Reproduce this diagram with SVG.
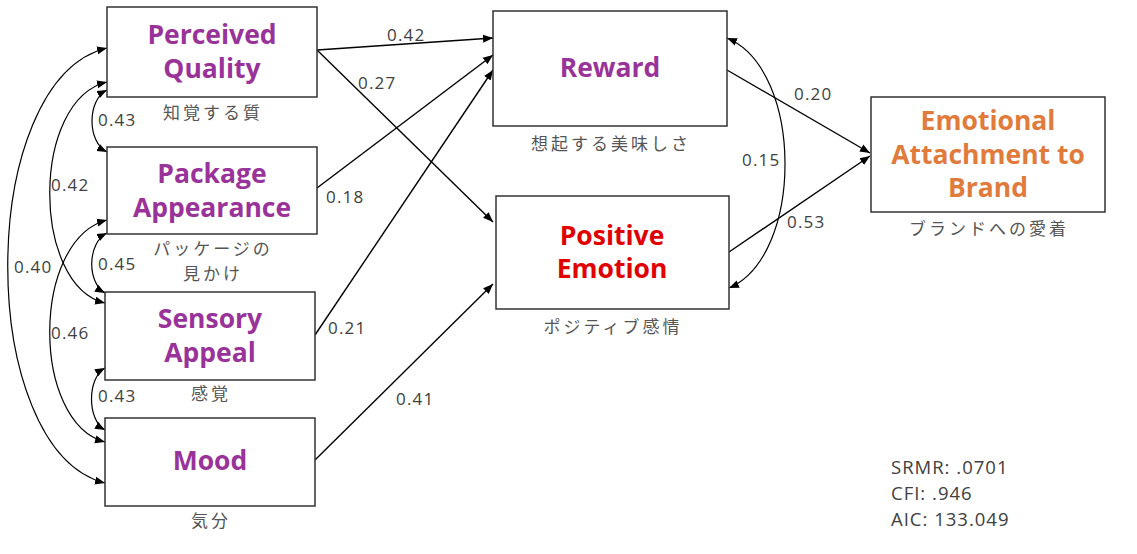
<svg xmlns="http://www.w3.org/2000/svg" width="1137" height="554" viewBox="0 0 1137 554">
<defs>
<marker id="ah" viewBox="0 0 10 10" refX="10" refY="5" markerWidth="10" markerHeight="10" markerUnits="userSpaceOnUse" orient="auto-start-reverse">
<path d="M0,1 L10,5 L0,9 z" fill="#000"/>
</marker>
<style>
.box{fill:#fff;stroke:#333;stroke-width:1.5}
.t{font-family:"Open Sans","Liberation Sans",sans-serif;font-weight:bold;font-size:26.5px;text-anchor:middle}
.p{fill:#993399}
.r{fill:#e00000}
.o{fill:#e07b3c}
.jp{font-family:"Noto Sans CJK JP",sans-serif;font-size:17px;letter-spacing:3px;fill:#555;text-anchor:middle}
.lb{font-family:"Open Sans","Liberation Sans",sans-serif;font-size:17px;letter-spacing:1.2px;fill:#404040}
.e{fill:none;stroke:#000;stroke-width:1.4;marker-end:url(#ah)}
.c{fill:none;stroke:#000;stroke-width:1.2;marker-start:url(#ah);marker-end:url(#ah)}
.st{font-family:"Open Sans","Liberation Sans",sans-serif;font-size:18.5px;letter-spacing:1px;fill:#404040}
</style>
</defs>
<rect width="1137" height="554" fill="#fff"/>
<g id="connectors">
<path class="e" d="M317,50 L493,38"/>
<path class="e" d="M317,50 L493,222"/>
<path class="e" d="M317,188 L493,55"/>
<path class="e" d="M315,335 L493,70"/>
<path class="e" d="M315,460 L493,284"/>
<path class="e" d="M727,70 L870,153"/>
<path class="e" d="M729,252 L870,156"/>
<path class="c" d="M727,38 C804,70 804,256 729,288"/>
<path class="c" d="M107,90 C87,100 87,142 107,152"/>
<path class="c" d="M107,82 C31,100 31,285 105,303"/>
<path class="c" d="M107,48 C-25,80 -25,450 105,483"/>
<path class="c" d="M107,233 C87,243 87,283 105,293"/>
<path class="c" d="M107,220 C31,240 31,422 105,442"/>
<path class="c" d="M105,368 C87,378 87,420 105,430"/>
<text class="lb" x="387" y="41">0.42</text>
<text class="lb" x="358" y="89">0.27</text>
<text class="lb" x="326" y="203">0.18</text>
<text class="lb" x="328" y="334">0.21</text>
<text class="lb" x="396" y="405">0.41</text>
<text class="lb" x="794" y="100">0.20</text>
<text class="lb" x="787" y="228">0.53</text>
<text class="lb" x="742" y="166">0.15</text>
<text class="lb" x="98" y="126">0.43</text>
<text class="lb" x="51" y="191">0.42</text>
<text class="lb" x="14" y="273">0.40</text>
<text class="lb" x="98" y="270">0.45</text>
<text class="lb" x="51" y="339">0.46</text>
<text class="lb" x="98" y="402">0.43</text>
</g>
<g id="perceived-quality">
<rect class="box" x="107" y="7" width="210" height="90"/>
<text class="t p" x="212" y="44">Perceived</text>
<text class="t p" x="212" y="78">Quality</text>
<text class="jp" x="213" y="119">知覚する質</text>
</g>
<g id="package-appearance">
<rect class="box" x="107" y="147" width="210" height="87"/>
<text class="t p" x="212" y="183">Package</text>
<text class="t p" x="212" y="217">Appearance</text>
<text class="jp" x="213" y="255">パッケージの</text>
<text class="jp" x="213" y="280">見かけ</text>
</g>
<g id="sensory-appeal">
<rect class="box" x="105" y="292" width="210" height="88"/>
<text class="t p" x="210" y="328">Sensory</text>
<text class="t p" x="210" y="362">Appeal</text>
<text class="jp" x="211" y="400">感覚</text>
</g>
<g id="mood">
<rect class="box" x="105" y="418" width="210" height="88"/>
<text class="t p" x="210" y="470">Mood</text>
<text class="jp" x="211" y="527">気分</text>
</g>
<g id="reward">
<rect class="box" x="493" y="11" width="234" height="115"/>
<text class="t p" x="610" y="77">Reward</text>
<text class="jp" x="611" y="150">想起する美味しさ</text>
</g>
<g id="positive-emotion">
<rect class="box" x="496" y="196" width="233" height="113"/>
<text class="t r" x="612" y="245">Positive</text>
<text class="t r" x="612" y="278">Emotion</text>
<text class="jp" x="613" y="333">ポジティブ感情</text>
</g>
<g id="emotional-attachment">
<rect class="box" x="871" y="97" width="234" height="115"/>
<text class="t o" x="988" y="130">Emotional</text>
<text class="t o" x="988" y="164">Attachment to</text>
<text class="t o" x="988" y="197">Brand</text>
<text class="jp" x="989" y="235">ブランドへの愛着</text>
</g>
<g id="stats">
<text class="st" x="891" y="474">SRMR: .0701</text>
<text class="st" x="891" y="500">CFI: .946</text>
<text class="st" x="891" y="526">AIC: 133.049</text>
</g>
</svg>
